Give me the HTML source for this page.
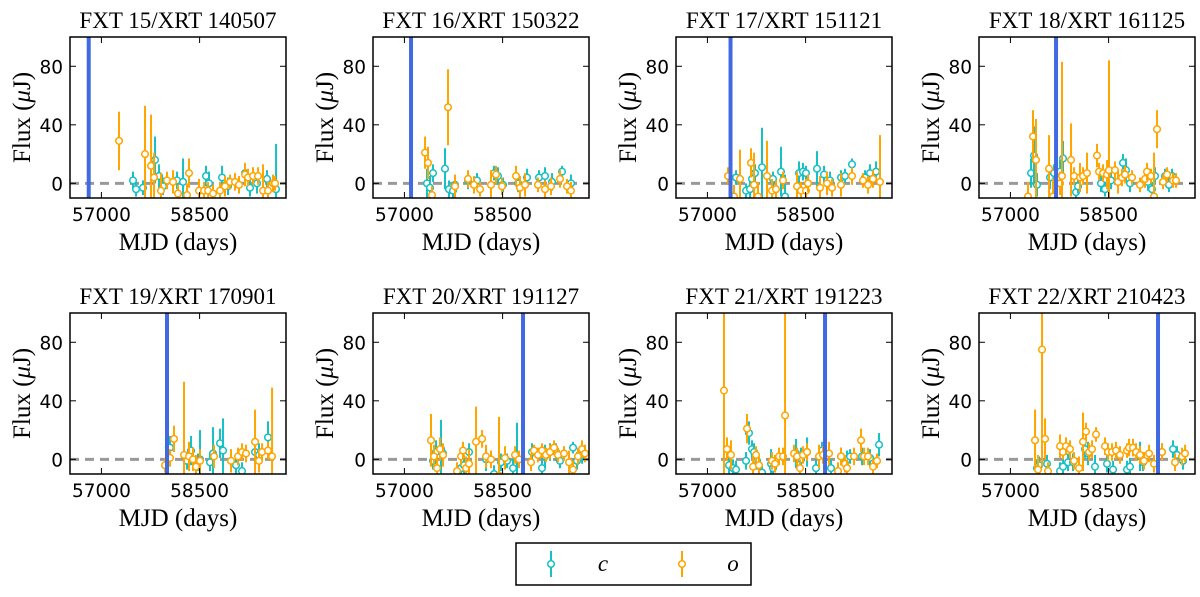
<!DOCTYPE html>
<html><head><meta charset="utf-8"><style>
body{margin:0;background:#fff;width:1200px;height:592px;overflow:hidden}
svg text{font-family:"DejaVu Sans","Liberation Sans",sans-serif}
.serif{font-family:"Liberation Serif","DejaVu Serif",serif}
</style></head><body>
<svg id="fig" width="1200" height="592" xmlns="http://www.w3.org/2000/svg"></svg>
<script>
const titles=["FXT 15/XRT 140507","FXT 16/XRT 150322","FXT 17/XRT 151121","FXT 18/XRT 161125","FXT 19/XRT 170901","FXT 20/XRT 191127","FXT 21/XRT 191223","FXT 22/XRT 210423"];
const xTicks=[57000,58500];
const yTicks=[0,40,80];
const blueMJD=[56806,57101,57353,57697,58002,58812,58797,59255];
const cX=[
[57483,57529,57635,57819,57880,57941,58155,58247,58598,58644,58843,58934,59194,59270,59377,59530,59668],
[57345,57391,57437,57620,57681,57742,57773,57972,58109,58369,58430,58506,58736,58873,59056,59148,59255,59408,59545],
[57437,57590,57651,57681,57727,57834,58002,58124,58186,58399,58460,58506,58674,58781,58873,59041,59102,59209,59408,59484,59576],
[57315,57360,57406,57605,57666,57758,57804,58002,58033,58384,58445,58537,58720,58766,58827,59102,59163,59209,59362,59423,59469],
[58048,58308,58369,58476,58506,58659,58705,58812,58858,59056,59148,59347,59408,59545],
[57437,57483,57559,57590,57865,57910,57987,58247,58369,58476,58568,58659,58720,58949,59102,59148,59224,59316,59377,59576,59637,59714],
[57330,57391,57437,57590,57635,57681,57712,57758,57834,57972,58002,58354,58430,58522,58659,58751,58888,59041,59133,59179,59362,59484,59622],
[57406,57437,57559,57758,57804,57880,57956,58140,58186,58292,58476,58568,58781,58827,58980,59026,59316,59484,59545,59637]];
const cY=[
[2,-4,-3,16,5,-2,2,1,5,0,4,-2,7,-3,0,3,-4],
[0,-3,7,10,-4,-5,-1,2,2,7,5,-1,0,4,4,5,1,8,0],
[4,-5,-4,3,7,11,3,8,-9,7,8,7,10,6,2,4,5,13,4,7,8],
[7,19,-1,4,7,8,17,-6,-2,0,-4,2,14,9,0,1,-4,5,5,-1,5],
[8,-1,6,-2,0,-2,4,11,6,-4,-8,5,3,15],
[-1,5,7,4,-6,-4,5,0,-10,-2,-1,-6,0,5,-6,2,5,5,-1,8,-1,3],
[-4,-6,-7,-1,18,7,5,-1,-9,-3,-6,4,0,5,-6,6,-6,2,0,2,2,1,10],
[-6,-4,-3,-8,-5,-2,-2,7,4,-5,-3,-7,-7,-5,2,-2,5,7,3,-1]];
const cE=[
[6,5,5,16,8,6,6,16,7,8,8,6,6,6,7,6,31],
[10,8,6,14,6,5,6,6,5,5,6,5,6,6,5,6,6,4,6],
[5,5,6,6,6,27,5,17,15,8,6,5,12,6,6,5,5,4,5,6,7],
[10,20,8,8,6,8,12,6,5,6,5,6,6,8,6,6,5,6,5,5,5],
[8,6,10,6,20,6,18,10,22,6,6,8,8,11],
[6,8,20,6,6,6,6,8,6,6,5,6,25,6,6,8,6,6,5,4,6,6],
[8,6,6,6,8,6,6,6,6,10,6,10,8,10,6,6,6,6,6,5,6,6,8],
[6,6,6,6,6,6,6,6,8,8,6,6,6,6,10,6,6,6,6,6]];
const oX=[
[57269,57666,57758,57804,57910,58002,58094,58170,58308,58338,58491,58568,58629,58705,58812,58888,58965,59041,59102,59194,59240,59316,59393,59469,59545,59622,59652],
[57315,57360,57421,57666,57773,57972,58063,58155,58323,58399,58491,58705,58766,58843,59041,59148,59240,59377,59484,59545],
[57315,57406,57498,57666,57712,57773,57910,57987,58048,58155,58369,58430,58506,58537,58720,58827,58904,59041,59209,59377,59454,59530,59637],
[57269,57345,57391,57590,57651,57758,57788,57926,57972,58063,58109,58170,58323,58354,58415,58476,58506,58598,58644,58705,58751,58858,58980,59056,59087,59148,59194,59240,59332,59393,59484,59530],
[57972,58048,58109,58262,58338,58399,58445,58506,58720,58980,59087,59148,59209,59347,59408,59454,59545,59607],
[57406,57452,57498,57544,57590,57804,57865,57895,57941,57987,58094,58186,58247,58323,58445,58537,58690,58751,58934,58980,59041,59102,59163,59224,59286,59347,59438,59515,59576,59652,59714,59759],
[57253,57299,57360,57605,57697,57742,57788,57987,58033,58094,58155,58186,58323,58369,58415,58461,58522,58705,58766,58858,58995,59041,59102,59133,59240,59347,59393,59454,59530,59591],
[57376,57422,57483,57529,57574,57758,57804,57849,57910,57972,58048,58109,58155,58201,58247,58308,58445,58491,58552,58613,58674,58781,58812,58873,58919,58980,59041,59118,59194,59316,59515,59622,59668]];
const oY=[
[29,20,12,4,-5,2,1,-7,-8,7,-5,-5,-5,-7,-5,-2,1,1,-1,6,4,5,5,-5,-5,0,0],
[21,14,-8,52,-2,3,-1,-4,-1,6,-2,5,-3,-1,-1,-4,-2,3,-2,-5],
[5,-9,3,14,-1,-9,5,-5,-4,2,-2,-5,-5,0,-3,0,-3,-1,5,2,-1,3,1],
[-9,32,16,10,-9,0,5,16,5,4,5,7,19,8,7,6,9,9,1,4,6,4,-1,3,8,5,-9,37,1,6,2,2],
[-4,1,14,3,2,0,-5,-1,2,-1,2,5,4,12,-1,5,6,2],
[13,2,-6,7,3,-8,2,6,-6,-3,12,14,2,0,-11,1,3,0,-2,6,3,6,3,5,8,3,4,-2,-7,2,7,4],
[47,7,3,21,-5,3,-4,-1,-3,2,2,30,4,2,-6,3,5,2,3,4,-8,2,-3,-6,2,13,2,2,-5,-1],
[13,-7,75,14,-8,9,5,9,7,-1,-6,12,19,5,7,17,9,5,5,6,3,6,8,8,5,3,-1,4,-3,5,-2,2,4]];
const oE=[
[20,33,35,17,12,6,8,6,8,10,8,6,6,6,6,7,5,6,6,8,6,6,6,18,6,6,5],
[11,11,6,26,8,6,6,5,10,6,6,7,8,8,5,6,6,6,5,6],
[6,8,20,10,22,10,24,8,6,6,10,6,8,6,8,8,6,8,6,5,6,6,32],
[10,18,28,23,12,8,78,25,6,10,6,14,8,6,6,10,75,6,8,6,6,5,5,6,6,5,30,13,5,5,5,5],
[5,6,9,50,10,8,8,8,8,8,6,6,6,22,8,6,6,47],
[18,8,8,8,8,6,6,6,8,10,24,6,8,6,40,8,6,6,6,4,5,5,5,5,5,5,5,8,6,6,6,6],
[120,8,10,10,8,6,6,6,6,6,6,100,6,6,6,6,6,8,6,8,6,6,6,6,6,8,6,6,5,5],
[21,10,80,14,6,8,5,6,6,6,8,20,6,6,6,5,6,6,6,6,6,5,6,6,6,6,6,6,6,6,6,6,6]];

const NS="http://www.w3.org/2000/svg";
const svg=document.getElementById('fig');
const W=216,H=161,XMIN=56520,XMAX=59820,YMIN=-10,YMAX=100;
const CYAN="#17c0c4",ORANGE="#ffa500";
function mk(t,a,p){const e=document.createElementNS(NS,t);for(const k in a)e.setAttribute(k,a[k]);(p||svg).appendChild(e);return e;}
for(let i=0;i<8;i++){
  const L=70+303*(i%4), T=i<4?37:313;
  const xs=v=>L+(v-XMIN)/(XMAX-XMIN)*W;
  const ys=v=>T+H-(v-YMIN)/(YMAX-YMIN)*H;
  const g=mk('g',{});
  
  
  const cp=mk('clipPath',{id:'cp'+i},g);
  mk('rect',{x:L,y:T,width:W,height:H},cp);
  const t=mk('text',{x:L+W/2,y:T-9,'text-anchor':'middle','font-size':23,class:'serif'},g);
  t.textContent=titles[i];
  
  
  const plot=mk('g',{'clip-path':'url(#cp'+i+')'},g);
  const z=mk('line',{x1:L,x2:L+W,y1:ys(0),y2:ys(0),stroke:'#999','stroke-width':3,'stroke-dasharray':'9,6'},plot);
  
  
  const drawSeries=(X,Y,E,col,nm)=>{
    for(let j=0;j<X.length;j++){
      const x=xs(X[j]);
      const b=mk('line',{x1:x,x2:x,y1:ys(Y[j]-E[j]),y2:ys(Y[j]+E[j]),stroke:col,'stroke-width':2},plot);
      
      
      const c=mk('circle',{cx:x,cy:ys(Y[j]),r:3.3,fill:'#fff',stroke:col,'stroke-width':1.5},plot);
      
      
    }
  };
  drawSeries(cX[i],cY[i],cE[i],CYAN,'c-band');
  drawSeries(oX[i],oY[i],oE[i],ORANGE,'o-band');
  const bl=mk('line',{x1:xs(blueMJD[i]),x2:xs(blueMJD[i]),y1:T,y2:T+H,stroke:'#4169e1','stroke-width':4},plot);
  
  
  const fr=mk('rect',{x:L,y:T,width:W,height:H,fill:'none',stroke:'#000','stroke-width':1.5},g);
  
  
  xTicks.forEach(v=>{
    const x=xs(v);
    mk('line',{x1:x,x2:x,y1:T+H,y2:T+H-6,stroke:'#000','stroke-width':1},g);
    mk('line',{x1:x,x2:x,y1:T,y2:T+6,stroke:'#000','stroke-width':1},g);
    const tl=mk('text',{x:x,y:T+H+23,'text-anchor':'middle','font-size':18.5},g);
    tl.textContent=v;
    
    
  });
  yTicks.forEach(v=>{
    const y=ys(v);
    mk('line',{x1:L,x2:L+6,y1:y,y2:y,stroke:'#000','stroke-width':1},g);
    mk('line',{x1:L+W,x2:L+W-6,y1:y,y2:y,stroke:'#000','stroke-width':1},g);
    const tl=mk('text',{x:L-7,y:y+7,'text-anchor':'end','font-size':18.5},g);
    tl.textContent=v;
    
    
  });
  const xl=mk('text',{x:L+W/2,y:T+H+52,'text-anchor':'middle','font-size':25,class:'serif'},g);
  xl.textContent='MJD (days)';
  
  
  const yl=mk('text',{x:0,y:0,'text-anchor':'middle','font-size':25,class:'serif',transform:'translate('+(L-40)+','+(T+H/2)+') rotate(-90)'},g);
  yl.innerHTML='Flux (<tspan font-style="italic">μ</tspan>J)';
  
  
}
const lg=mk('g',{});


mk('rect',{x:516,y:543,width:235,height:42,fill:'#fff',stroke:'#000','stroke-width':1.5},lg);
[[551,CYAN,'c',603],[682,ORANGE,'o',733]].forEach(d=>{
  const e=mk('g',{},lg);
  
  
  mk('line',{x1:d[0],x2:d[0],y1:551,y2:577,stroke:d[1],'stroke-width':2},e);
  mk('circle',{cx:d[0],cy:564,r:3.3,fill:'#fff',stroke:d[1],'stroke-width':1.5},e);
  const tx=mk('text',{x:d[3],y:571,'text-anchor':'middle','font-size':23,'font-style':'italic',class:'serif'},e);
  tx.textContent=d[2];
});
</script>
</body></html>
